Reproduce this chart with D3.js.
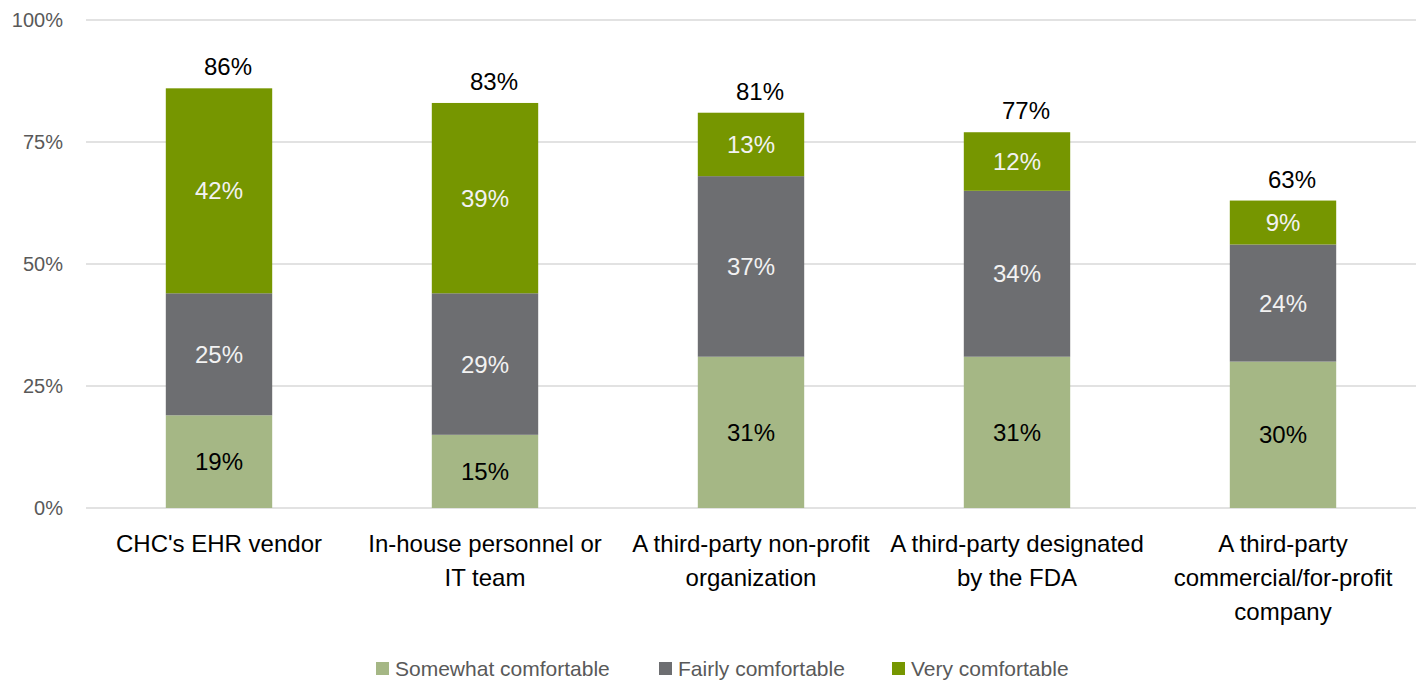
<!DOCTYPE html>
<html>
<head>
<meta charset="utf-8">
<script src="https://cdn.jsdelivr.net/npm/d3@7"></script>
<style>
  html, body { margin: 0; padding: 0; background: #fff; }
  svg { display: block; }
</style>
</head>
<body>
<svg id="chart" width="1424" height="681"></svg>
<script>
// Comfort with each party validating AI tools, by party
const categories = [
  "CHC's EHR vendor",
  "In-house personnel or IT team",
  "A third-party non-profit organization",
  "A third-party designated by the FDA",
  "A third-party commercial/for-profit company"
];
const categoryLines = [
  ["CHC's EHR vendor"],
  ["In-house personnel or", "IT team"],
  ["A third-party non-profit", "organization"],
  ["A third-party designated", "by the FDA"],
  ["A third-party", "commercial/for-profit", "company"]
];
const seriesNames = ["Somewhat comfortable", "Fairly comfortable", "Very comfortable"];
const somewhat = [19, 15, 31, 31, 30];
const fairly   = [25, 29, 37, 34, 24];
const very     = [42, 39, 13, 12, 9];
const totals   = [86, 83, 81, 77, 63];
const yTicks   = [0, 25, 50, 75, 100];

const colors = ["#a5b785", "#6d6e71", "#769600"];
const labelColors = ["#000000", "#f2f2f2", "#f2f2f2"];
const FONT = "'Liberation Sans', Arial, sans-serif";

const svg = d3.select("#chart");
const margin = { left: 86, right: 8, top: 20, bottom: 173 };
const W = 1424, H = 681;

const x = d3.scaleBand()
  .domain(categories)
  .range([margin.left, W - margin.right])
  .paddingInner(0.6)
  .paddingOuter(0.3);

const y = d3.scaleLinear().domain([0, 100]).range([H - margin.bottom, margin.top]);

// gridlines
svg.append("g")
  .selectAll("line")
  .data(yTicks)
  .join("line")
  .attr("x1", margin.left)
  .attr("x2", W - margin.right)
  .attr("y1", d => y(d))
  .attr("y2", d => y(d))
  .attr("stroke", "#d9d9d9")
  .attr("stroke-width", 1.5);

// y axis labels
const yAxis = d3.axisLeft(y).tickValues(yTicks).tickFormat(d => d + "%").tickSize(0).tickPadding(23);
const yg = svg.append("g").attr("transform", `translate(${margin.left},0)`).call(yAxis);
yg.select(".domain").remove();
yg.selectAll("text")
  .attr("font-family", FONT)
  .attr("font-size", 20)
  .attr("fill", "#595959");

// stacked series
const rows = categories.map((c, i) => ({ cat: c, s0: somewhat[i], s1: fairly[i], s2: very[i] }));
const stack = d3.stack().keys(["s0", "s1", "s2"]);
const stacked = stack(rows);

const layers = svg.append("g")
  .selectAll("g")
  .data(stacked)
  .join("g")
  .attr("fill", (d, i) => colors[i]);

layers.selectAll("rect")
  .data(d => d)
  .join("rect")
  .attr("x", d => x(d.data.cat))
  .attr("width", x.bandwidth())
  .attr("y", d => y(d[1]))
  .attr("height", d => y(d[0]) - y(d[1]));

// segment value labels
stacked.forEach((layer, li) => {
  svg.append("g")
    .selectAll("text")
    .data(layer)
    .join("text")
    .attr("x", d => x(d.data.cat) + x.bandwidth() / 2)
    .attr("y", d => (y(d[0]) + y(d[1])) / 2)
    .attr("dy", "0.36em")
    .attr("text-anchor", "middle")
    .attr("font-family", FONT)
    .attr("font-size", 24)
    .attr("fill", labelColors[li])
    .text(d => (d[1] - d[0]) + "%");
});

// totals above the bars
svg.append("g")
  .selectAll("text")
  .data(categories)
  .join("text")
  .attr("x", d => x(d) + x.bandwidth() / 2 + 9)
  .attr("y", (d, i) => y(totals[i]) - 13)
  .attr("text-anchor", "middle")
  .attr("font-family", FONT)
  .attr("font-size", 24)
  .attr("fill", "#000")
  .text((d, i) => totals[i] + "%");

// category labels
const catG = svg.append("g")
  .selectAll("text")
  .data(categories)
  .join("text")
  .attr("x", d => x(d) + x.bandwidth() / 2)
  .attr("y", 552)
  .attr("text-anchor", "middle")
  .attr("font-family", FONT)
  .attr("font-size", 24)
  .attr("fill", "#000");

catG.each(function(d, i) {
  d3.select(this).selectAll("tspan")
    .data(categoryLines[i])
    .join("tspan")
    .attr("x", x(d) + x.bandwidth() / 2)
    .attr("dy", (t, j) => j === 0 ? 0 : 34)
    .text(t => t);
});

// legend
const legendX = [376, 659, 892];
const legend = svg.append("g")
  .selectAll("g")
  .data(seriesNames)
  .join("g")
  .attr("transform", (d, i) => `translate(${legendX[i]},662)`);

legend.append("rect")
  .attr("width", 13)
  .attr("height", 13)
  .attr("fill", (d, i) => colors[i]);

legend.append("text")
  .attr("x", 19)
  .attr("y", 6.5)
  .attr("dy", "0.36em")
  .attr("font-family", FONT)
  .attr("font-size", 21)
  .attr("fill", "#595959")
  .text(d => d);
</script>
</body>
</html>
